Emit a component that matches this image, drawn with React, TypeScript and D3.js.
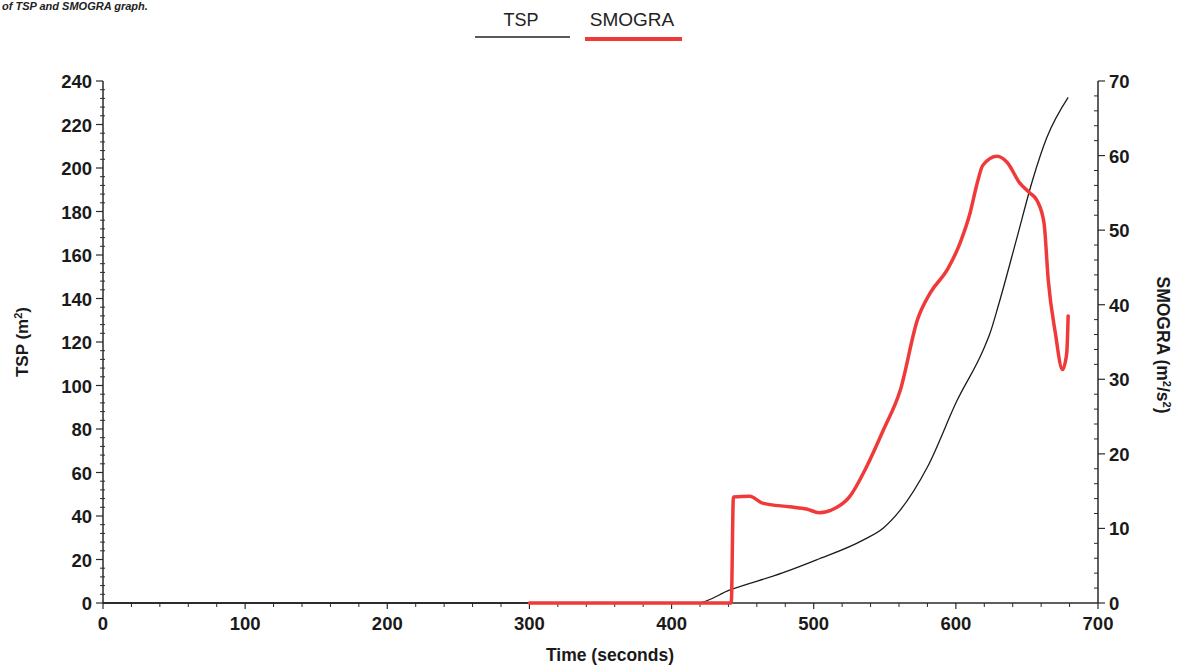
import React from "react";
import * as d3 from "d3";

// Time (s) and total smoke production TSP (m²)
const tspTime = [0, 100, 200, 300, 418, 441, 478, 502, 535, 549, 561, 580, 601, 619, 624, 630, 643, 654, 664, 679];
const tspValue = [0, 0, 0, 0, 0, 6, 13.8, 19.8, 29, 34.5, 42.8, 62.5, 93.3, 116, 124, 137, 168, 194.5, 214, 232.5];

// Time (s) and smoke growth rate SMOGRA (m²/s²)
const smograTime = [300, 380, 442, 443.5, 455, 464, 483, 495, 504, 514, 525, 537, 549, 561, 573, 582, 594, 603, 610, 615, 619, 629, 636, 645, 652, 657, 662, 665, 670, 675, 678, 679];
const smograValue = [0, 0, 0, 14.2, 14.3, 13.4, 12.9, 12.6, 12.1, 12.6, 14.2, 18.2, 23.2, 28.6, 38, 41.6, 44.7, 48.3, 52.3, 56.3, 58.7, 59.9, 59.1, 56.3, 55, 54, 51, 43.3, 36.2, 31.3, 33.5, 38.5];

const xTicks = [0, 100, 200, 300, 400, 500, 600, 700];
const leftTicks = [0, 20, 40, 60, 80, 100, 120, 140, 160, 180, 200, 220, 240];
const rightTicks = [0, 10, 20, 30, 40, 50, 60, 70];

const W = 1184;
const H = 667;
const left = 103;
const right = 1098;
const top = 81;
const bottom = 603;

export default function App() {
  const x = d3.scaleLinear().domain([0, 700]).range([left, right]);
  const yL = d3.scaleLinear().domain([0, 240]).range([bottom, top]);
  const yR = d3.scaleLinear().domain([0, 70]).range([bottom, top]);

  const tspLine = d3
    .line<number>()
    .x((_, i) => x(tspTime[i]))
    .y((d) => yL(d))
    .curve(d3.curveMonotoneX);
  const smLine = d3
    .line<number>()
    .x((_, i) => x(smograTime[i]))
    .y((d) => yR(d))
    .curve(d3.curveMonotoneX);

  const xMinor = d3.range(0, 701, 20).filter((v) => v % 100 !== 0);
  const lMinor = d3.range(0, 241, 4).filter((v) => v % 20 !== 0);
  const rMinor = d3.range(0, 71, 2).filter((v) => v % 10 !== 0);

  const axisColor = "#2a2a2a";
  const tickFont = {
    fontFamily: "Liberation Sans, Arial, sans-serif",
    fontWeight: 700,
    fontSize: 18.5,
    fill: "#1a1a1a",
  } as const;

  return (
    <svg
      width={W}
      height={H}
      viewBox={`0 0 ${W} ${H}`}
      style={{ position: "absolute", left: 0, top: 0, background: "#fff" }}
    >
      <rect width={W} height={H} fill="#fff" />

      {/* caption fragment at the top edge */}
      <text
        x={2}
        y={10}
        style={{ fontFamily: "Liberation Sans, Arial, sans-serif", fontWeight: 700, fontStyle: "italic", fontSize: 11 }}
        fill="#222"
      >
        of TSP and SMOGRA graph.
      </text>

      {/* legend */}
      <text
        x={521}
        y={26}
        textAnchor="middle"
        style={{ fontFamily: "Liberation Sans Narrow, Liberation Sans, Arial, sans-serif", fontSize: 18 }}
        fill="#222"
      >
        TSP
      </text>
      <line x1={475} x2={570} y1={37} y2={37} stroke="#222" strokeWidth={1.6} />
      <text
        x={632}
        y={26}
        textAnchor="middle"
        style={{ fontFamily: "Liberation Sans Narrow, Liberation Sans, Arial, sans-serif", fontSize: 19 }}
        fill="#222"
      >
        SMOGRA
      </text>
      <line x1={585} x2={682} y1={39} y2={39} stroke="#f03a3a" strokeWidth={4} />

      {/* axes */}
      <line x1={left} x2={left} y1={top} y2={bottom} stroke={axisColor} strokeWidth={1.5} />
      <line x1={right} x2={right} y1={top} y2={bottom} stroke={axisColor} strokeWidth={1.5} />
      <line x1={left} x2={right} y1={bottom} y2={bottom} stroke={axisColor} strokeWidth={1.5} />

      {/* x ticks */}
      {xTicks.map((t) => (
        <g key={"x" + t}>
          <line x1={x(t)} x2={x(t)} y1={bottom} y2={bottom + 6} stroke={axisColor} strokeWidth={1.2} />
          <text x={x(t)} y={bottom + 27} textAnchor="middle" style={tickFont}>
            {t}
          </text>
        </g>
      ))}
      {xMinor.map((t) => (
        <line key={"xm" + t} x1={x(t)} x2={x(t)} y1={bottom} y2={bottom + 4} stroke={axisColor} strokeWidth={1} />
      ))}

      {/* left ticks */}
      {leftTicks.map((t) => (
        <g key={"l" + t}>
          <line x1={left - 7} x2={left} y1={yL(t)} y2={yL(t)} stroke={axisColor} strokeWidth={1.2} />
          <text x={left - 11} y={yL(t) + 7} textAnchor="end" style={tickFont}>
            {t}
          </text>
        </g>
      ))}
      {lMinor.map((t) => (
        <line key={"lm" + t} x1={left - 3} x2={left + 2} y1={yL(t)} y2={yL(t)} stroke={axisColor} strokeWidth={1} />
      ))}

      {/* right ticks */}
      {rightTicks.map((t) => (
        <g key={"r" + t}>
          <line x1={right} x2={right + 7} y1={yR(t)} y2={yR(t)} stroke={axisColor} strokeWidth={1.2} />
          <text x={right + 11} y={yR(t) + 7} textAnchor="start" style={tickFont}>
            {t}
          </text>
        </g>
      ))}
      {rMinor.map((t) => (
        <line key={"rm" + t} x1={right - 4} x2={right} y1={yR(t)} y2={yR(t)} stroke={axisColor} strokeWidth={1} />
      ))}

      {/* axis titles */}
      <text
        transform={`translate(28,342) rotate(-90)`}
        textAnchor="middle"
        style={{ ...tickFont, fontSize: 17 }}
      >
        TSP (m<tspan dy={-6} fontSize={11}>2</tspan><tspan dy={6}>)</tspan>
      </text>
      <text
        transform={`translate(1157,345) rotate(90)`}
        textAnchor="middle"
        style={{ ...tickFont, fontSize: 17.5 }}
      >
        SMOGRA (m<tspan dy={-6} fontSize={11}>2</tspan><tspan dy={6}>/s</tspan>
        <tspan dy={-6} fontSize={11}>2</tspan>
        <tspan dy={6}>)</tspan>
      </text>
      <text x={610} y={661} textAnchor="middle" style={{ ...tickFont, fontSize: 17.5 }}>
        Time (seconds)
      </text>

      {/* series */}
      <path d={tspLine(tspValue) ?? ""} fill="none" stroke="#1c1c1c" strokeWidth={1.3} />
      <path
        d={smLine(smograValue) ?? ""}
        fill="none"
        stroke="#f03a3a"
        strokeWidth={3.5}
        strokeLinejoin="round"
        strokeLinecap="round"
      />
    </svg>
  );
}
